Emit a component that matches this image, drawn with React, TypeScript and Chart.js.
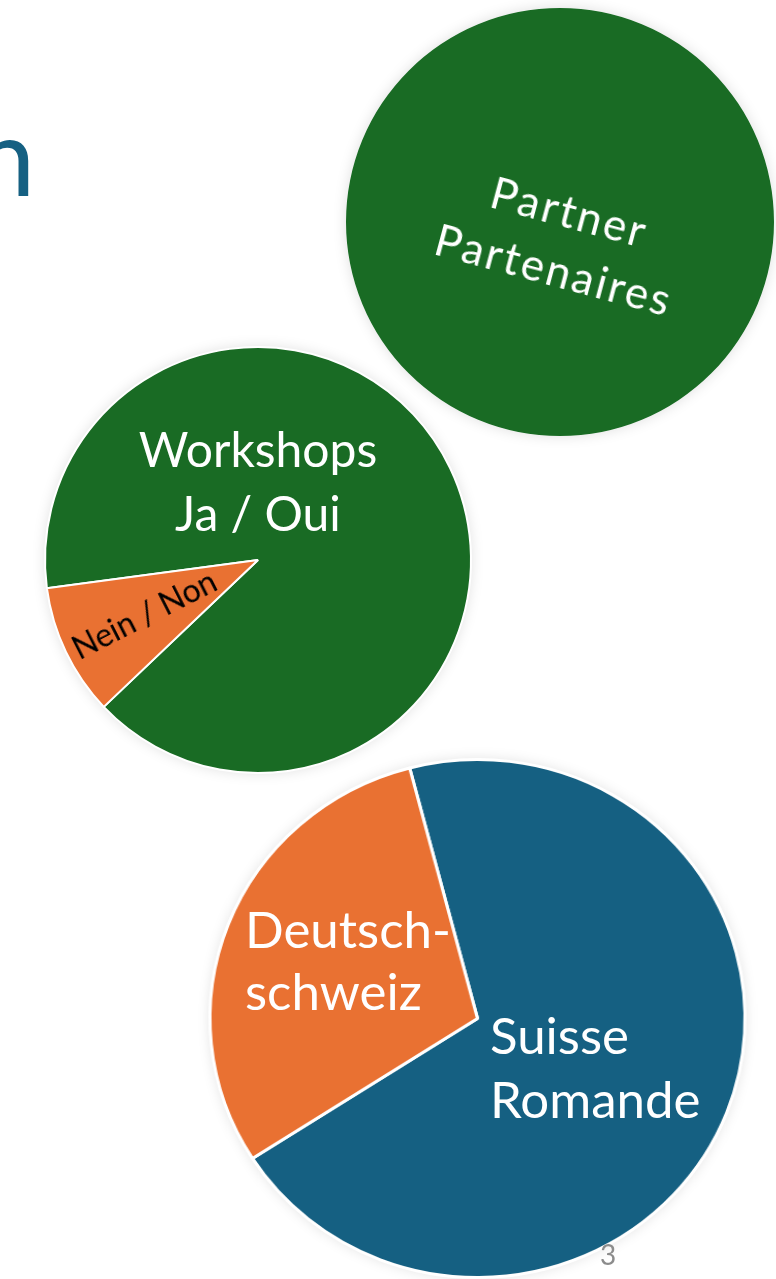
import React, { useEffect, useRef } from "react";
import { Chart, registerables } from "chart.js";

Chart.register(...registerables);

// ---- data ----
const partnerLabels = ["Partner / Partenaires"];
const partnerValues = [100];

const workshopLabels = ["Ja / Oui", "Nein / Non"];
const workshopValues = [90, 10];

const regionLabels = ["Suisse Romande", "Deutschschweiz"];
const regionValues = [70, 30];

// ---- colours ----
const GREEN = "#196B24";
const ORANGE = "#E97132";
const BLUE = "#156082";
const FONT = "Lato, 'Open Sans', sans-serif";

const haloPlugin = {
  id: "halo",
  beforeDatasetsDraw(chart: any) {
    const arc = chart.getDatasetMeta(0).data[0] as any;
    if (!arc) return;
    const ctx = chart.ctx;
    ctx.save();
    ctx.shadowColor = "rgba(0,0,0,0.13)";
    ctx.shadowBlur = 14;
    ctx.fillStyle = "#ffffff";
    ctx.beginPath();
    ctx.arc(arc.x, arc.y, arc.outerRadius, 0, Math.PI * 2);
    ctx.fill();
    ctx.restore();
  },
};

type PieProps = {
  labels: string[];
  values: number[];
  colors: string[];
  cx: number;
  cy: number;
  radius: number;
  rotation: number;
  borderWidth: number;
  scaleX?: number;
};

function PieChart({ labels, values, colors, cx, cy, radius, rotation, borderWidth, scaleX }: PieProps) {
  const ref = useRef<HTMLCanvasElement>(null);
  const size = Math.ceil(radius * 2 + borderWidth + 40);
  useEffect(() => {
    const chart = new Chart(ref.current as HTMLCanvasElement, {
      type: "pie",
      data: {
        labels,
        datasets: [
          {
            data: values,
            backgroundColor: colors,
            borderColor: "#ffffff",
            borderWidth,
            hoverOffset: 0,
          },
        ],
      },
      options: {
        responsive: false,
        animation: false,
        events: [],
        radius,
        rotation,
        plugins: { legend: { display: false }, tooltip: { enabled: false } },
      } as any,
      plugins: [haloPlugin],
    });
    return () => chart.destroy();
  }, []);
  return (
    <div
      style={{
        position: "absolute",
        left: cx - size / 2,
        top: cy - size / 2,
        width: size,
        height: size,
        transform: scaleX ? `scaleX(${scaleX})` : undefined,
        transformOrigin: "50% 50%",
      }}
    >
      <canvas ref={ref} width={size} height={size} style={{ width: size, height: size, display: "block" }} />
    </div>
  );
}

const labelBase: React.CSSProperties = {
  position: "absolute",
  fontFamily: FONT,
  color: "#ffffff",
  whiteSpace: "nowrap",
};

export default function App() {
  return (
    <div
      style={{
        position: "absolute",
        left: 0,
        top: 0,
        width: 776,
        height: 1279,
        overflow: "hidden",
        background: "#ffffff",
      }}
    >
      {/* cropped title fragment */}
      <div
        style={{
          position: "absolute",
          left: -25,
          top: 100,
          fontFamily: FONT,
          fontWeight: 400,
          fontSize: 108,
          lineHeight: 1,
          color: BLUE,
        }}
      >
        n
      </div>

      <PieChart
        labels={partnerLabels}
        values={partnerValues}
        colors={[GREEN]}
        cx={560}
        cy={222}
        radius={214}
        rotation={0}
        borderWidth={0}
      />
      <PieChart
        labels={workshopLabels}
        values={workshopValues}
        colors={[GREEN, ORANGE]}
        cx={258}
        cy={560}
        radius={213}
        rotation={262.4}
        borderWidth={2}
      />
      <PieChart
        labels={regionLabels}
        values={regionValues}
        colors={[BLUE, ORANGE]}
        cx={477.5}
        cy={1018}
        radius={259}
        rotation={-14.7}
        borderWidth={3}
        scaleX={1.033}
      />

      {/* Partner label */}
      <div
        style={{
          ...labelBase,
          left: 562,
          top: 240,
          transform: "translate(-50%, -50%) rotate(15deg)",
          fontSize: 44,
          lineHeight: "60px",
          letterSpacing: 2.5,
          textAlign: "center",
        }}
      >
        Partner
        <br />
        Partenaires
      </div>

      {/* Workshops labels */}
      <div
        style={{
          ...labelBase,
          left: 58,
          width: 400,
          top: 417,
          fontSize: 48,
          lineHeight: "64px",
          textAlign: "center",
        }}
      >
        Workshops
        <br />
        Ja / Oui
      </div>
      <div
        style={{
          ...labelBase,
          color: "#000000",
          left: 144,
          top: 614,
          transform: "translate(-50%, -50%) rotate(-27deg)",
          fontSize: 32,
          lineHeight: "36px",
        }}
      >
        Nein / Non
      </div>

      {/* Region labels */}
      <div
        style={{
          ...labelBase,
          left: 245,
          top: 954 - 56,
          fontSize: 51,
          lineHeight: "62px",
        }}
      >
        Deutsch-
        <br />
        schweiz
      </div>
      <div
        style={{
          ...labelBase,
          left: 490,
          top: 1059 - 56,
          fontSize: 51,
          lineHeight: "64px",
        }}
      >
        Suisse
        <br />
        Romande
      </div>

      {/* page number */}
      <div
        style={{
          position: "absolute",
          left: 600,
          top: 1240,
          fontFamily: FONT,
          fontSize: 28,
          lineHeight: 1,
          color: "#8c8c8c",
        }}
      >
        3
      </div>
    </div>
  );
}
